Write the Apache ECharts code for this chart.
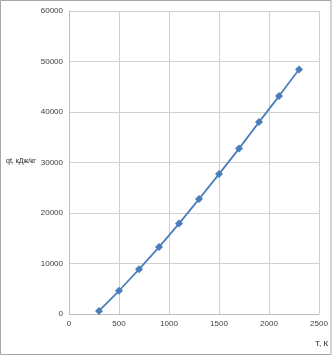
<!DOCTYPE html>
<html><head><meta charset="utf-8">
<script src="https://cdn.jsdelivr.net/npm/echarts@6/dist/echarts.min.js"></script>
<style>html,body{margin:0;padding:0;background:#fff}#c{width:336px;height:356px}</style>
</head><body><div id="c"></div>
<script>
const temps = [300, 500, 700, 900, 1100, 1300, 1500, 1700, 1900, 2100, 2300];
const qt = [600, 4600, 8850, 13250, 17900, 22750, 27700, 32750, 38000, 43150, 48400];
const yName = 'qt, кДж/кг';
const xName = 'Т, К';
const font = '"Liberation Sans Narrow", "Liberation Sans", Arial, sans-serif';
const chart = echarts.init(document.getElementById('c'), null, {renderer: 'canvas'});
chart.setOption({
  animation: false,
  backgroundColor: '#fff',
  grid: {left: 69, right: 17, top: 11, bottom: 42, containLabel: false, outerBoundsMode: 'none'},
  xAxis: {
    type: 'value', min: 0, max: 2500, interval: 500,
    axisLine: {show: true, lineStyle: {color: '#bfbfbf'}},
    axisTick: {show: false},
    axisLabel: {color: '#404040', fontSize: 8, fontFamily: font, margin: 6, formatter: v => String(v)},
    splitLine: {show: true, lineStyle: {color: '#d0d0d0'}}
  },
  yAxis: {
    type: 'value', min: 0, max: 60000, interval: 10000,
    axisLine: {show: true, lineStyle: {color: '#bfbfbf'}},
    axisTick: {show: false},
    axisLabel: {color: '#404040', fontSize: 8, fontFamily: font, margin: 6, formatter: v => String(v)},
    splitLine: {show: true, lineStyle: {color: '#d0d0d0'}}
  },
  graphic: [
    {type: 'rect', shape: {x: 0.5, y: 0.5, width: 330.5, height: 354}, style: {fill: 'none', stroke: '#a6a6a6', lineWidth: 1}, silent: true},
    {type: 'rect', shape: {x: 319.5, y: 11, width: 0, height: 303}, style: {fill: 'none', stroke: '#d0d0d0', lineWidth: 1}, silent: true},
    {type: 'text', left: 6, top: 158, style: {text: yName, fill: '#202020', font: '7px ' + font}},
    {type: 'text', left: 315, top: 340, style: {text: xName, fill: '#202020', font: '8px ' + font}}
  ],
  series: [{
    type: 'line',
    data: temps.map((t, i) => [t, qt[i]]),
    symbol: 'diamond', symbolSize: 8,
    itemStyle: {color: '#4a7ebb'},
    lineStyle: {color: '#4a7ebb', width: 1.75}
  }]
});
</script></body></html>
